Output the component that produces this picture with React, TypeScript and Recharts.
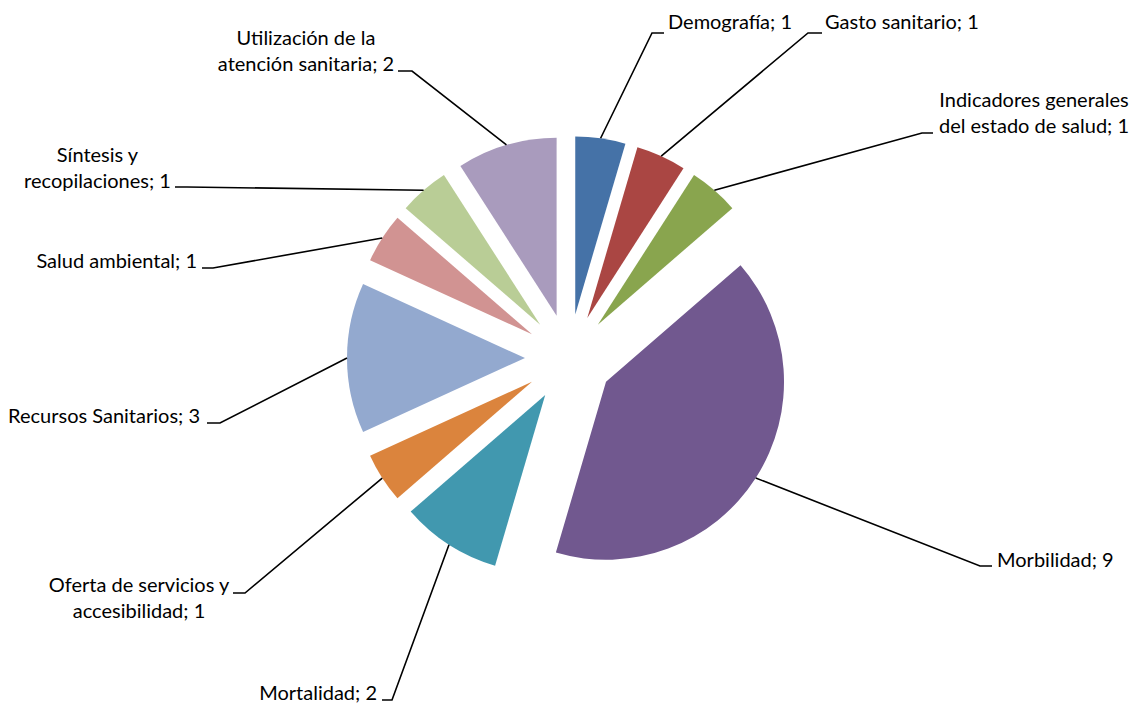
import React from 'react';
import { PieChart, Pie, Sector } from 'recharts';

// ---- data ----
const categories = [
  'Demografía',
  'Gasto sanitario',
  'Indicadores generales del estado de salud',
  'Morbilidad',
  'Mortalidad',
  'Oferta de servicios y accesibilidad',
  'Recursos Sanitarios',
  'Salud ambiental',
  'Síntesis y recopilaciones',
  'Utilización de la atención sanitaria',
];
const values = [1, 1, 1, 9, 2, 1, 3, 1, 1, 2];
const labelTexts = [
  ['Demografía; 1'],
  ['Gasto sanitario; 1'],
  ['Indicadores generales', 'del estado de salud; 1'],
  ['Morbilidad; 9'],
  ['Mortalidad; 2'],
  ['Oferta de servicios y', 'accesibilidad; 1'],
  ['Recursos Sanitarios; 3'],
  ['Salud ambiental; 1'],
  ['Síntesis y', 'recopilaciones; 1'],
  ['Utilización de la', 'atención sanitaria; 2'],
];

// ---- styles / layout ----
const colors = ['#4572A7', '#AA4643', '#89A54E', '#71588F', '#4198AF', '#DB843D', '#93A9CF', '#D19392', '#B9CD96', '#A99BBD'];
const EXPLODE = 44;
const FONT = 'Lato, "Liberation Sans", sans-serif';
const FONT_SIZE = 20;
const LINE_H = 25.5;
type Anchor = 'start' | 'middle' | 'end';
const labelLayout: { x: number; y: number; anchor: Anchor; ex: number; ey: number; hx: number }[] = [
  { x: 668, y: 29, anchor: 'start', ex: 652, ey: 33, hx: 664 },
  { x: 825, y: 29, anchor: 'start', ex: 808, ey: 33, hx: 822 },
  { x: 1034, y: 107, anchor: 'middle', ex: 922, ey: 133, hx: 933 },
  { x: 997, y: 567, anchor: 'start', ex: 980, ey: 566, hx: 992 },
  { x: 377, y: 700, anchor: 'end', ex: 392, ey: 700, hx: 382 },
  { x: 139, y: 592, anchor: 'middle', ex: 245, ey: 593, hx: 233 },
  { x: 200, y: 423, anchor: 'end', ex: 220, ey: 423, hx: 207 },
  { x: 197, y: 268, anchor: 'end', ex: 213, ey: 268, hx: 202 },
  { x: 97.5, y: 162, anchor: 'middle', ex: 187, ey: 187, hx: 175 },
  { x: 306, y: 45, anchor: 'middle', ex: 412, ey: 71, hx: 398 },
];

const data = categories.map((name, i) => ({ name, value: values[i] }));

const RAD = Math.PI / 180;
const polar = (cx: number, cy: number, r: number, angle: number) => ({
  x: cx + r * Math.cos(-angle * RAD),
  y: cy + r * Math.sin(-angle * RAD),
});

const renderSlice = (props: any) => {
  const { cx, cy, midAngle, outerRadius, startAngle, endAngle, index } = props;
  const c = polar(cx, cy, EXPLODE, midAngle);
  const start = polar(cx, cy, outerRadius + EXPLODE, midAngle);
  const L = labelLayout[index];
  return (
    <g key={`slice-${index}`}>
      <Sector
        cx={c.x}
        cy={c.y}
        innerRadius={0}
        outerRadius={outerRadius}
        startAngle={startAngle}
        endAngle={endAngle}
        fill={colors[index]}
        stroke="none"
      />
      <polyline
        points={`${start.x},${start.y} ${L.ex},${L.ey} ${L.hx},${L.ey}`}
        fill="none"
        stroke="#000"
        strokeWidth={1.6}
      />
      <text x={L.x} y={L.y} textAnchor={L.anchor} fontFamily={FONT} fontSize={FONT_SIZE} fill="#000">
        {labelTexts[index].map((t, j) => (
          <tspan key={j} x={L.x} y={L.y + j * LINE_H}>
            {t}
          </tspan>
        ))}
      </text>
    </g>
  );
};

export default function App() {
  return (
    <div style={{ position: 'absolute', left: 0, top: 0, width: 1139, height: 708, background: '#fff' }}>
      <PieChart width={1139} height={708} margin={{ top: 0, right: 0, bottom: 0, left: 0 }}>
        <Pie
          data={data}
          dataKey="value"
          nameKey="name"
          cx={569}
          cy={358}
          innerRadius={0}
          outerRadius={178}
          startAngle={90}
          endAngle={-270}
          fill="none"
          stroke="none"
          label={renderSlice}
          labelLine={false}
          isAnimationActive={false}
        />
      </PieChart>
    </div>
  );
}
